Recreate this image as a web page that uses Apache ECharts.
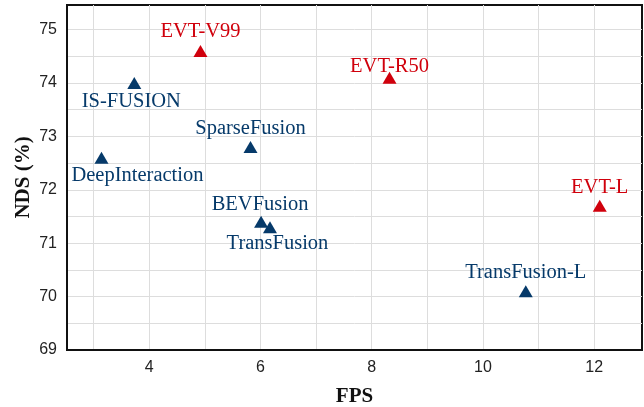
<!DOCTYPE html>
<html>
<head>
<meta charset="utf-8">
<script src="https://cdn.jsdelivr.net/npm/echarts@6/dist/echarts.min.js"></script>
<style>html,body{margin:0;padding:0;background:#fff;}#c{width:644px;height:407px;}</style>
</head>
<body>
<div id="c"></div>
<script>
// ---- data ----
const methods = ['EVT-V99', 'IS-FUSION', 'SparseFusion', 'DeepInteraction', 'BEVFusion', 'TransFusion', 'TransFusion-L', 'EVT-L', 'EVT-R50'];
const fps = [4.92, 3.73, 5.82, 3.14, 6.01, 6.17, 10.77, 12.1, 8.32];
const nds = [74.6, 74.0, 72.8, 72.6, 71.4, 71.3, 70.1, 71.7, 74.1];
const isOurs = [true, false, false, false, false, false, false, true, true];
const xTickLabels = [4, 6, 8, 10, 12];
const xGridValues = [3, 4, 5, 6, 7, 8, 9, 10, 11, 12];
const yTickLabels = [69, 70, 71, 72, 73, 74, 75];
const yGridValues = [69, 69.5, 70, 70.5, 71, 71.5, 72, 72.5, 73, 73.5, 74, 74.5, 75];

// ---- layout / style ----
const labelOffsets = {
  'EVT-V99': [0, -19], 'IS-FUSION': [-3, 18.5], 'SparseFusion': [0, -18.5],
  'DeepInteraction': [36, 17.5], 'BEVFusion': [-1, -17.5], 'TransFusion': [7.5, 16.5],
  'TransFusion-L': [0, -19], 'EVT-L': [0, -18.5], 'EVT-R50': [0, -11.5]
};
const BLUE = '#063a6a', RED = '#d0000c';
const serif = '"Liberation Serif", "DejaVu Serif", serif';
const sans = '"Liberation Sans", Arial, sans-serif';

function buildData(ours) {
  const out = [];
  methods.forEach((m, i) => {
    if (isOurs[i] !== ours) return;
    out.push({
      name: m, value: [fps[i], nds[i]],
      label: { offset: labelOffsets[m] }
    });
  });
  return out;
}
function series(ours) {
  const col = ours ? RED : BLUE;
  return {
    type: 'scatter', symbol: 'triangle', symbolSize: [14, 12],
    itemStyle: { color: col, opacity: 1 },
    label: {
      show: true, position: 'inside', formatter: p => p.name,
      color: col, fontFamily: serif, fontSize: 20.5, opacity: 1
    },
    data: buildData(ours), z: 5
  };
}

const chart = echarts.init(document.getElementById('c'), null, { renderer: 'canvas' });
chart.setOption({
  animation: false,
  grid: { left: 67, right: 2, top: 5, bottom: 57, show: true, borderColor: '#111', borderWidth: 2,
          containLabel: false, outerBoundsMode: 'none' },
  xAxis: {
    type: 'value', min: 2.52, max: 12.86,
    name: 'FPS', nameLocation: 'middle', nameGap: 36, nameMoveOverlap: false,
    nameTextStyle: { fontFamily: serif, fontWeight: 'bold', fontSize: 21, color: '#111' },
    axisLine: { show: true, lineStyle: { color: '#111', width: 2 } },
    axisTick: { show: false, customValues: xGridValues },
    axisLabel: { customValues: xTickLabels, fontFamily: sans, fontSize: 16, color: '#222', margin: 10 },
    splitLine: { show: true, lineStyle: { color: '#dddddd', width: 1 } }
  },
  yAxis: {
    type: 'value', min: 69, max: 75.46,
    name: 'NDS (%)', nameLocation: 'middle', nameGap: 33, nameMoveOverlap: false,
    nameTextStyle: { fontFamily: serif, fontWeight: 'bold', fontSize: 21, color: '#111' },
    axisLine: { show: true, lineStyle: { color: '#111', width: 2 } },
    axisTick: { show: false, customValues: yGridValues },
    axisLabel: { customValues: yTickLabels, fontFamily: sans, fontSize: 16, color: '#222', margin: 10 },
    splitLine: { show: true, lineStyle: { color: '#dddddd', width: 1 } }
  },
  series: [series(false), series(true)]
});
</script>
</body>
</html>
